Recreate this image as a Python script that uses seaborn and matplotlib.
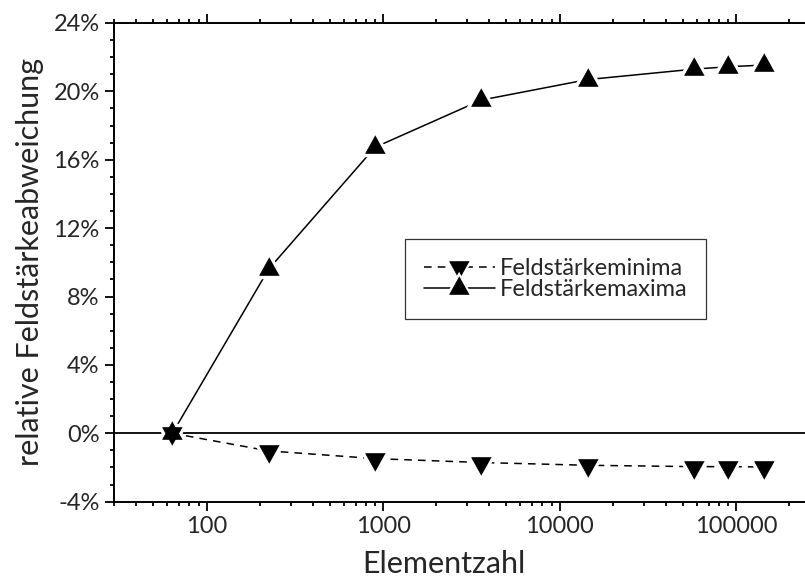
import numpy as np
import pandas as pd
import matplotlib
matplotlib.use("Agg")
import matplotlib.pyplot as plt
import seaborn as sns
from matplotlib.lines import Line2D
from matplotlib.ticker import MultipleLocator, FixedLocator, FuncFormatter, NullFormatter, LogLocator

# Daten
elementzahl = [64, 225, 900, 3600, 14400, 57600, 90000, 144000]
maxima = [0.0, 9.61, 16.73, 19.49, 20.69, 21.30, 21.44, 21.54]
minima = [0.0, -1.03, -1.48, -1.71, -1.87, -1.95, -1.95, -1.97]

x_ticks = [100, 1000, 10000, 100000]
x_ticklabels = ["100", "1000", "10000", "100000"]
y_ticks = [-4, 0, 4, 8, 12, 16, 20, 24]

label_min = "Feldstärkeminima"
label_max = "Feldstärkemaxima"

sns.set_style("ticks")
plt.rcParams["font.family"] = ["Lato", "DejaVu Sans"]

df = pd.DataFrame({
    "Elementzahl": elementzahl * 2,
    "wert": minima + maxima,
    "reihe": [label_min] * len(minima) + [label_max] * len(maxima),
})

# Dreiecke um den Schwerpunkt, damit sich bei 64 ein Stern ergibt
tri_up = [(0, 1.2), (-1, -0.6), (1, -0.6)]
tri_down = [(0, -1.2), (-1, 0.6), (1, 0.6)]

fig = plt.figure(figsize=(8.05, 5.82), dpi=100)
ax = fig.add_axes([0.142, 0.138, 0.877, 0.8225])

lw = 1.1
ms = 17.0

sns.lineplot(data=df, x="Elementzahl", y="wert", hue="reihe", style="reihe",
             palette={label_min: "black", label_max: "black"},
             dashes={label_min: (5, 4), label_max: ""},
             linewidth=lw, legend=False, ax=ax)

ax.axhline(0, color="black", lw=1.3, zorder=1)

# weisse Hoefe um die Marker, dann die Marker selbst
for m, yv in ((tri_down, minima), (tri_up, maxima)):
    ax.plot(elementzahl, yv, ls="none", marker=m, ms=ms + 9, mfc="white", mec="white", zorder=3)
for m, yv in ((tri_down, minima), (tri_up, maxima)):
    ax.plot(elementzahl, yv, ls="none", marker=m, ms=ms, mfc="black", mec="black", mew=0.5, zorder=4)

ax.set_xscale("log")
ax.set_xlim(30, 300000)
ax.set_ylim(-4, 24)

ax.xaxis.set_major_locator(FixedLocator(x_ticks))
ax.xaxis.set_major_formatter(FuncFormatter(lambda v, p: x_ticklabels[x_ticks.index(v)] if v in x_ticks else ""))
ax.xaxis.set_minor_locator(LogLocator(base=10, subs=np.arange(2, 10)))
ax.xaxis.set_minor_formatter(NullFormatter())

ax.yaxis.set_major_locator(FixedLocator(y_ticks))
ax.yaxis.set_minor_locator(MultipleLocator(1))
ax.yaxis.set_major_formatter(FuncFormatter(lambda v, p: f"{v:.0f}%"))

for s in ["left", "bottom", "top", "right"]:
    ax.spines[s].set_linewidth(1.4)
    ax.spines[s].set_color("black")

ax.tick_params(which="both", direction="out", top=True, right=False, color="black", width=1.3)
ax.tick_params(which="major", length=6.5, labelsize=17, pad=4)
ax.tick_params(which="minor", length=3)

ax.set_xlabel("Elementzahl", fontsize=22)
ax.set_ylabel("relative Feldstärkeabweichung", fontsize=22)
ax.xaxis.set_label_coords(0.467, -0.1)
ax.yaxis.set_label_coords(-0.1, 0.5)

h_min = (Line2D([], [], color="black", lw=lw, ls=(0, (5, 4))),
         Line2D([], [], ls="none", marker=tri_down, ms=ms + 6, mfc="white", mec="white"),
         Line2D([], [], ls="none", marker=tri_down, ms=ms, mfc="black", mec="black", mew=0.5))
h_max = (Line2D([], [], color="black", lw=lw),
         Line2D([], [], ls="none", marker=tri_up, ms=ms + 6, mfc="white", mec="white"),
         Line2D([], [], ls="none", marker=tri_up, ms=ms, mfc="black", mec="black", mew=0.5))
leg = ax.legend([h_min, h_max], [label_min, label_max], loc="upper left",
                bbox_to_anchor=(0.412, 0.549), borderaxespad=0, fontsize=17,
                frameon=True, fancybox=False, framealpha=1, edgecolor="#333333",
                handlelength=3.0, handletextpad=0.2, borderpad=0.8, labelspacing=0.0)
leg.get_frame().set_linewidth(0.9)

fig.savefig("out.png", dpi=100)
